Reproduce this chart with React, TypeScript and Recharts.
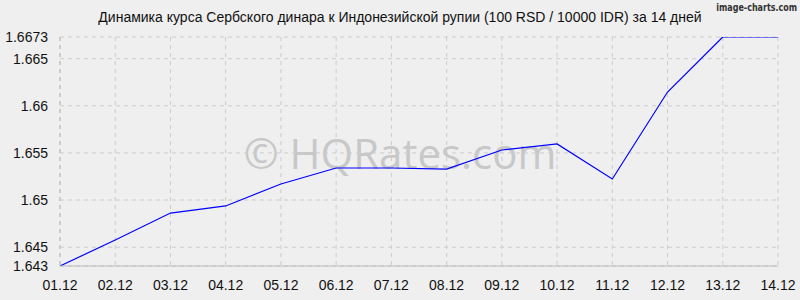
import React from 'react';
import { LineChart, Line, XAxis, YAxis, CartesianGrid } from 'recharts';

const dates = ['01.12', '02.12', '03.12', '04.12', '05.12', '06.12', '07.12', '08.12', '09.12', '10.12', '11.12', '12.12', '13.12', '14.12'];
const rates = [1.643, 1.64576, 1.64862, 1.64937, 1.6517, 1.6534, 1.6534, 1.65329, 1.65531, 1.65595, 1.65223, 1.66146, 1.6673, 1.6673];
const yTicks = [1.643, 1.645, 1.65, 1.655, 1.66, 1.665, 1.6673];

const chartData = dates.map((d, i) => ({ date: d, rate: rates[i] }));

const App: React.FC = () => {
  return (
    <div style={{ position: 'absolute', left: 0, top: 0, width: 800, height: 300, background: '#efefef', fontFamily: '"Liberation Sans", Arial, sans-serif' }}>
      {/* Title */}
      <div style={{ position: 'absolute', top: 9, left: 0, width: 800, textAlign: 'center', fontSize: 14, color: '#111' }}>
        Динамика курса Сербского динара к Индонезийской рупии (100 RSD / 10000 IDR) за 14 дней
      </div>
      <div style={{ position: 'absolute', top: 2, right: 3, fontSize: 10, fontWeight: 'bold', color: '#333', fontFamily: '"DejaVu Sans", sans-serif', transform: 'scaleX(0.8)', transformOrigin: 'right top' }}>
        image-charts.com
      </div>

      {/* Watermark */}
      <div style={{ position: 'absolute', top: 124, left: 0, width: 800, textAlign: 'center', fontSize: 42, color: '#c8c8c8', fontFamily: '"Open Sans", sans-serif' }}>
        © HQRates.com
      </div>

      <LineChart
        width={800}
        height={300}
        data={chartData}
        margin={{ top: 37, right: 22, left: 0, bottom: 0 }}
        style={{ position: 'absolute', left: 0, top: 0 }}
      >
        <CartesianGrid strokeDasharray="4 4" stroke="#cccccc" />
        <XAxis
          dataKey="date"
          height={34}
          axisLine={{ stroke: '#bbbbbb' }}
          tickLine={false}
          tick={{ fill: '#111', fontSize: 14 }}
          tickMargin={8}
          interval={0}
        />
        <YAxis
          type="number"
          domain={[1.643, 1.6673]}
          ticks={yTicks}
          width={60}
          axisLine={{ stroke: '#bbbbbb', strokeDasharray: '4 4' }}
          tickLine={false}
          tick={{ fill: '#111', fontSize: 14 }}
          tickMargin={6}
          interval={0}
          allowDataOverflow
        />
        <Line
          type="linear"
          dataKey="rate"
          stroke="#0000ff"
          strokeWidth={1.2}
          dot={false}
          isAnimationActive={false}
        />
      </LineChart>
    </div>
  );
};

export default App;
